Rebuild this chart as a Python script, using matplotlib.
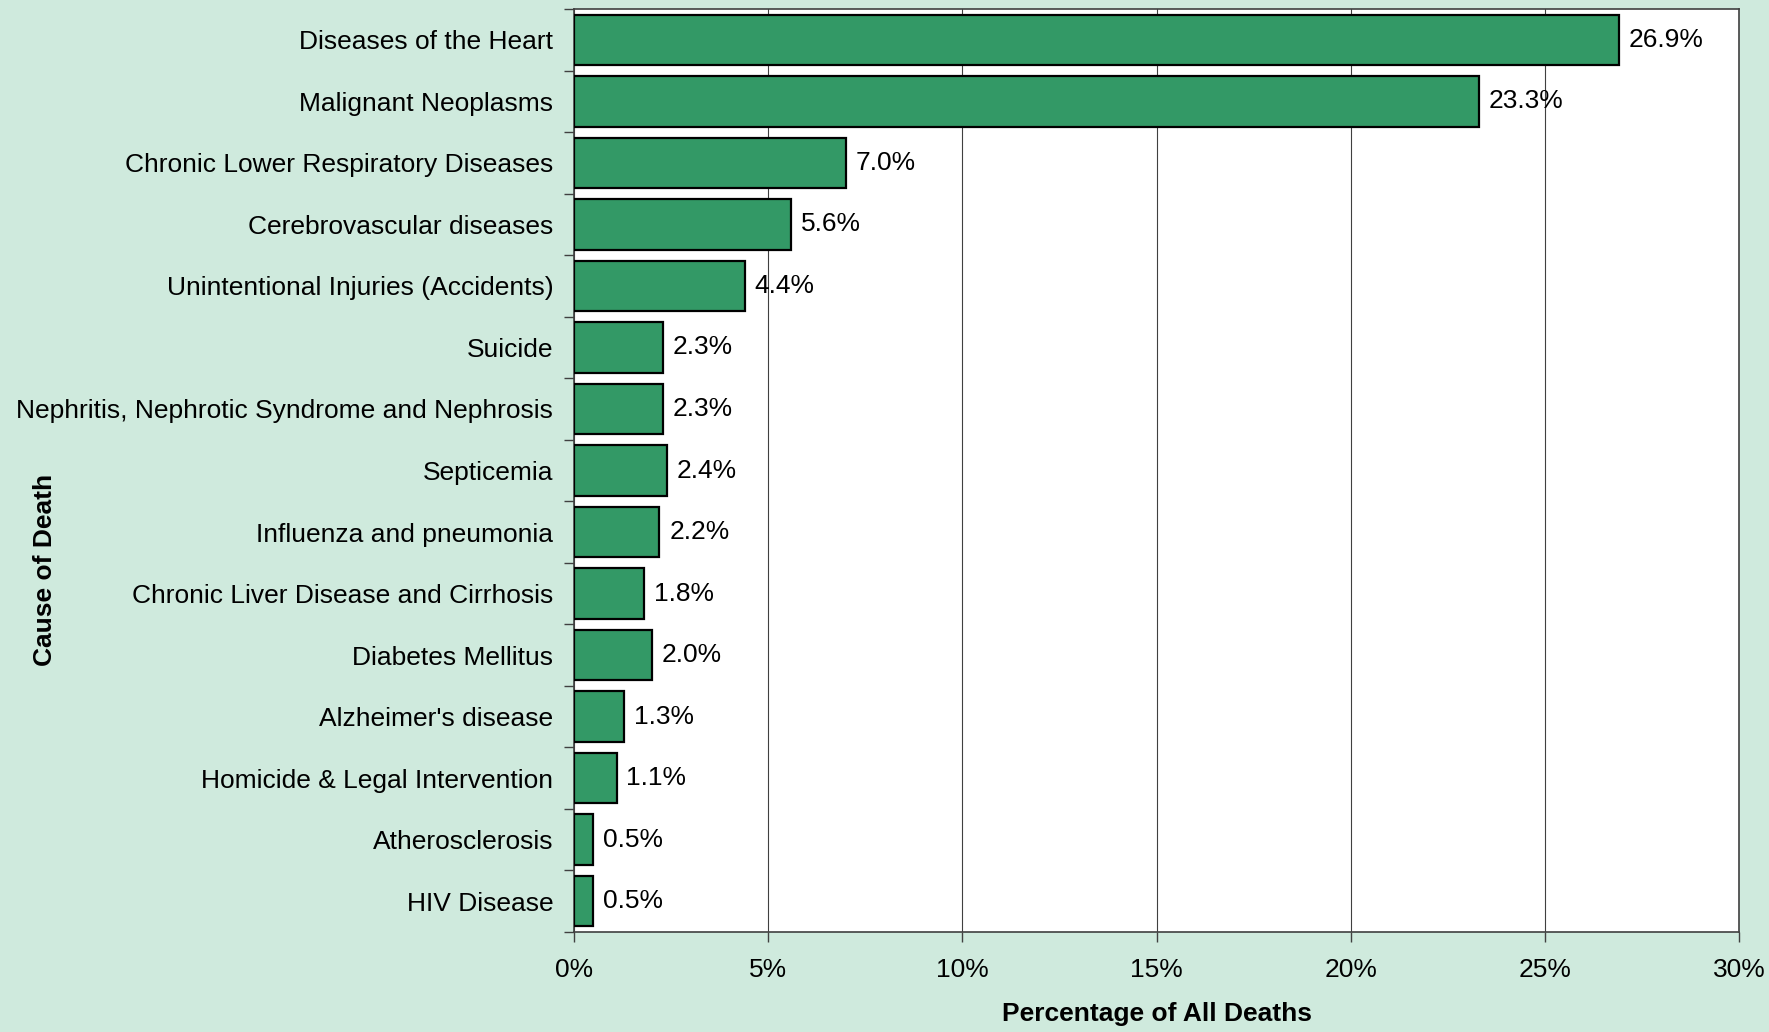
import numpy as np
import matplotlib
matplotlib.use("Agg")
import matplotlib.pyplot as plt
from matplotlib.ticker import FixedLocator, FuncFormatter

plt.rcParams['font.family'] = ['Liberation Sans', 'DejaVu Sans']

# causes of death, top to bottom
causes = [
    "Diseases of the Heart",
    "Malignant Neoplasms",
    "Chronic Lower Respiratory Diseases",
    "Cerebrovascular diseases",
    "Unintentional Injuries (Accidents)",
    "Suicide",
    "Nephritis, Nephrotic Syndrome and Nephrosis",
    "Septicemia",
    "Influenza and pneumonia",
    "Chronic Liver Disease and Cirrhosis",
    "Diabetes Mellitus",
    "Alzheimer's disease",
    "Homicide & Legal Intervention",
    "Atherosclerosis",
    "HIV Disease",
]
percent = [26.9, 23.3, 7.0, 5.6, 4.4, 2.3, 2.3, 2.4, 2.2, 1.8, 2.0, 1.3, 1.1, 0.5, 0.5]
x_ticks = [0, 5, 10, 15, 20, 25, 30]

bg = "#cfeadd"
bar_color = "#339966"
fs = 19

fig = plt.figure(figsize=(17.69, 10.32), dpi=100)
fig.patch.set_facecolor(bg)
ax = fig.add_axes([574/1769, 1 - 932/1032, (1739-574)/1769, (932-9)/1032])
ax.set_facecolor("white")

n = len(causes)
y = np.arange(n)
ax.barh(y, percent, height=0.82, color=bar_color, edgecolor="black", linewidth=1.6, zorder=3)

for yi, v in zip(y, percent):
    ax.text(v + 0.25, yi, f"{v:.1f}%", va="center", ha="left", fontsize=fs, zorder=4)

ax.set_ylim(n - 0.5, -0.5)
ax.set_xlim(0, 30)
ax.set_yticks(y)
ax.set_yticklabels(causes, fontsize=fs)
ax.yaxis.set_minor_locator(FixedLocator(np.arange(-0.5, n, 1.0)))
ax.tick_params(axis="y", which="major", length=0, pad=15)
ax.tick_params(axis="y", which="minor", length=7, width=1, color="#404040")

ax.set_xticks(x_ticks)
ax.xaxis.set_major_formatter(FuncFormatter(lambda v, p: f"{v:.0f}%"))
ax.tick_params(axis="x", length=7, width=1, color="#404040", pad=12, labelsize=fs)

ax.grid(axis="x", color="#404040", linewidth=0.8, zorder=0)
for s in ax.spines.values():
    s.set_color("#404040")
    s.set_linewidth(1.2)

ax.set_xlabel("Percentage of All Deaths", fontsize=fs, fontweight="bold", labelpad=14)
fig.text(45/1769, 1 - 570/1032, "Cause of Death", rotation=90, fontsize=fs,
         fontweight="bold", ha="center", va="center")

fig.savefig("out.png", dpi=100, facecolor=bg)
